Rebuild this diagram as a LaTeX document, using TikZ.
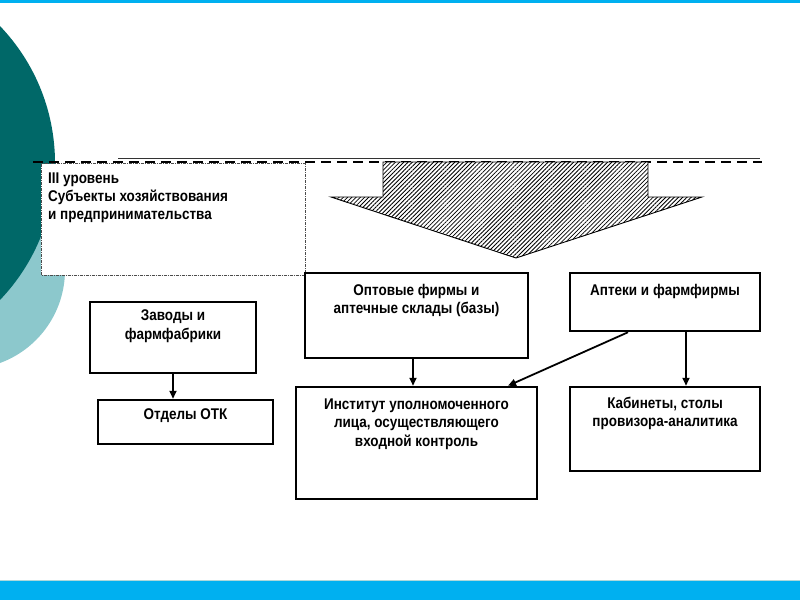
\documentclass[tikz,border=0pt]{standalone}
\usepackage{fontspec}
\setmainfont{Liberation Sans}[FakeStretch=0.87]
\usetikzlibrary{arrows.meta,patterns.meta}
\definecolor{darkteal}{RGB}{0,104,104}
\definecolor{lightteal}{RGB}{140,200,204}
\definecolor{bandblue}{RGB}{0,176,240}
\tikzset{
  box/.style={draw=black, line width=2.5pt, fill=white, inner sep=0pt},
  txt/.style={font=\bfseries\fontsize{15.5}{18.3}\selectfont, align=center, inner sep=0pt, anchor=north},
  ltxt/.style={font=\bfseries\fontsize{15.5}{18}\selectfont, align=left, inner sep=0pt, anchor=north west},
  conn/.style={line width=1.8pt, -{Triangle[length=8pt,width=7pt]}}
}
\begin{document}
\begin{tikzpicture}[x=1pt,y=-1pt]
\useasboundingbox (0,0) rectangle (800,600);
% background decorations
\begin{scope}
\clip (0,0) rectangle (800,600);
\fill[lightteal] (-34,270) circle (99);
\fill[darkteal] (-143,163) circle (198);
\end{scope}
\fill[bandblue] (0,0) rectangle (800,3);
\fill[lightteal!70!white] (0,579.5) rectangle (800,581.5);
\fill[bandblue] (0,581) rectangle (800,600);
% top lines
\draw[line width=1pt, black!80] (118,158) -- (760,158);
\draw[line width=2.5pt, dash pattern=on 10pt off 6pt] (33,162) -- (762,162);
% level box
\draw[fill=white, draw=black!70, line width=0.6pt, dash pattern=on 3pt off 1pt on 1pt off 1pt] (41,163.5) rectangle (305,275);
\node[ltxt] (lvl) at (48,173) {III уровень\\Субъекты хозяйствования\\и предпринимательства};
% big arrow
\fill[white] (383,162) -- (648,162) -- (648,197) -- (702,197) -- (516,258) -- (331,197) -- (383,197) -- cycle;
\fill[pattern={Lines[angle=45,distance=3pt,line width=0.8pt]}] (383,162) -- (648,162) -- (648,197) -- (702,197) -- (516,258) -- (331,197) -- (383,197) -- cycle;
\draw[line width=0.9pt] (383,162) -- (648,162) -- (648,197) -- (702,197) -- (516,258) -- (331,197) -- (383,197) -- cycle;
% boxes
\node[box, minimum width=223pt, minimum height=85pt] (opt) at (416.5,315.5) {};
\node[box, minimum width=190pt, minimum height=58pt] (apt) at (665,302) {};
\node[box, minimum width=241pt, minimum height=112pt] (inst) at (416.5,443) {};
\node[box, minimum width=190pt, minimum height=84pt] (kab) at (665,429) {};
\node[box, minimum width=166pt, minimum height=71pt] (zav) at (173,337.5) {};
\node[box, minimum width=175pt, minimum height=44pt] (otk) at (185.5,422) {};
% texts
\node[txt] (optt) at ([yshift=-12pt]opt.north) {Оптовые фирмы и\\аптечные склады (базы)};
\node[txt] (aptt) at ([yshift=-12pt]apt.north) {Аптеки и фармфирмы};
\node[txt] (instt) at ([yshift=-13pt]inst.north) {Институт уполномоченного\\лица, осуществляющего\\входной контроль};
\node[txt] (kabt) at ([yshift=-11pt]kab.north) {Кабинеты, столы\\провизора-аналитика};
\node[txt] (zavt) at ([yshift=-9pt]zav.north) {Заводы и\\фармфабрики};
\node[txt] (otkt) at ([yshift=-10pt]otk.north) {Отделы ОТК};
% connectors
\draw[conn] (zav.south) -- (zav.south |- otk.north);
\coordinate (c1) at ([xshift=-3.5pt]opt.south);
\draw[conn] (c1) -- (c1 |- inst.north);
\coordinate (c2) at ([xshift=21pt]apt.south);
\draw[conn] (c2) -- (c2 |- kab.north);
\coordinate (c3) at ([xshift=-37pt]apt.south);
\coordinate (c4) at ([xshift=91.5pt]inst.north);
\draw[conn] (c3) -- (c4);
\end{tikzpicture}
\end{document}
